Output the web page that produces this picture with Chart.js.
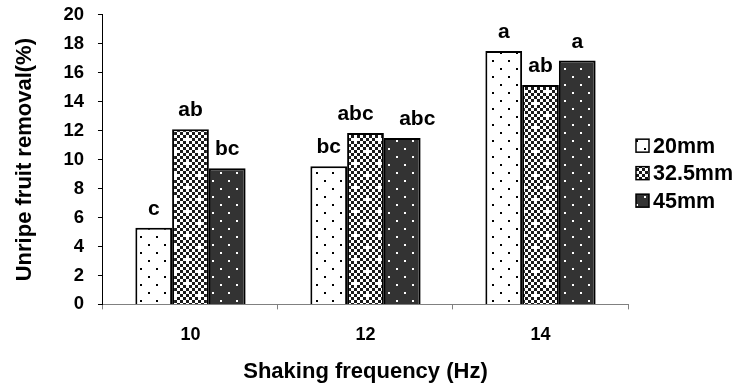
<!DOCTYPE html>
<html>
<head>
<meta charset="utf-8">
<script src="https://cdn.jsdelivr.net/npm/chart.js@4/dist/chart.umd.min.js"></script>
<style>
  html, body { margin: 0; padding: 0; background: #fff; }
</style>
</head>
<body>
<canvas id="chart" width="738" height="388"></canvas>
<script>
// Data
const frequencies = ['10', '12', '14'];
const seriesNames = ['20mm', '32.5mm', '45mm'];
const removal20 = [5.3, 9.55, 17.5];
const removal32 = [12.1, 11.85, 15.15];
const removal45 = [9.4, 11.5, 16.85];
const letters20 = ['c', 'bc', 'a'];
const letters32 = ['ab', 'abc', 'ab'];
const letters45 = ['bc', 'abc', 'a'];
const yTicks = [0, 2, 4, 6, 8, 10, 12, 14, 16, 18, 20];

const FONT = "'Liberation Sans', Arial, sans-serif";

// Fill patterns, like the old spreadsheet hatch fills
function dotPattern(bg, dot) {
    const c = document.createElement('canvas');
    c.width = 16; c.height = 16;
    const g = c.getContext('2d');
    g.fillStyle = bg;
    g.fillRect(0, 0, 16, 16);
    g.fillStyle = dot;
    g.fillRect(4, 4, 2, 2);
    g.fillRect(12, 12, 2, 2);
    return g.createPattern(c, 'repeat');
}

function checkPattern() {
    const cell = 3, n = 8;
    const c = document.createElement('canvas');
    c.width = cell * n; c.height = cell * n;
    const g = c.getContext('2d');
    g.fillStyle = '#fff';
    g.fillRect(0, 0, c.width, c.height);
    g.fillStyle = '#1a1a1a';
    for (let j = 0; j < n; j++) {
        for (let i = 0; i < n; i++) {
            // two dark cells left white make the little white crosses
            const cross = (i === 2 && j === 2) || (i === 6 && j === 6);
            if ((i + j) % 2 === 0 && !cross) g.fillRect(i * cell, j * cell, cell, cell);
        }
    }
    return g.createPattern(c, 'repeat');
}

Chart.defaults.font.family = FONT;
Chart.defaults.font.weight = 'bold';
Chart.defaults.color = '#000';

const lettersByDataset = [letters20, letters32, letters45];
// the two "abc" labels at 12 Hz are pushed apart so they do not touch
const letterNudge = { '1,1': -10, '2,1': 15 };

// Significance letters above each bar
const letterLabels = {
    id: 'letterLabels',
    afterDatasetsDraw(chart) {
        const ctx = chart.ctx;
        ctx.save();
        ctx.font = 'bold 21px ' + FONT;
        ctx.fillStyle = '#000';
        ctx.textAlign = 'center';
        ctx.textBaseline = 'alphabetic';
        chart.data.datasets.forEach((ds, i) => {
            chart.getDatasetMeta(i).data.forEach((bar, j) => {
                const dx = letterNudge[i + ',' + j] || 0;
                ctx.fillText(lettersByDataset[i][j], bar.x + dx, bar.y - 13);
            });
        });
        ctx.restore();
    }
};

// Legend to the right of the plot, small box close to the text
const sideLegend = {
    id: 'sideLegend',
    afterDraw(chart) {
        const ctx = chart.ctx;
        const area = chart.chartArea;
        const box = 13;
        const rowGap = 27.5;
        const x0 = area.right + 8;
        const yMid = (area.top + area.bottom) / 2 + 13.5;
        ctx.save();
        ctx.font = 'bold 21.5px ' + FONT;
        ctx.textBaseline = 'middle';
        ctx.textAlign = 'left';
        chart.data.datasets.forEach((ds, i) => {
            const y = yMid + (i - 1) * rowGap;
            ctx.fillStyle = ds.backgroundColor;
            ctx.fillRect(x0, y - box / 2, box, box);
            ctx.lineWidth = 1.5;
            ctx.strokeStyle = '#000';
            ctx.strokeRect(x0, y - box / 2, box, box);
            ctx.fillStyle = '#000';
            ctx.fillText(ds.label, x0 + box + 4, y + 1);
        });
        ctx.restore();
    }
};

const ctx = document.getElementById('chart').getContext('2d');
const chart = new Chart(ctx, {
    type: 'bar',
    data: {
        labels: frequencies,
        datasets: [
            { label: seriesNames[0], data: removal20, backgroundColor: dotPattern('#fff', '#000') },
            { label: seriesNames[1], data: removal32, backgroundColor: checkPattern() },
            { label: seriesNames[2], data: removal45, backgroundColor: dotPattern('#333', '#fff') }
        ]
    },
    options: {
        responsive: false,
        animation: false,
        layout: { padding: { left: 4, right: 110, top: 0, bottom: 2 } },
        datasets: {
            bar: {
                borderColor: '#000',
                borderWidth: 2,
                barPercentage: 1,
                categoryPercentage: 0.63
            }
        },
        plugins: {
            legend: { display: false },
            tooltip: { enabled: false }
        },
        scales: {
            x: {
                grid: {
                    drawOnChartArea: false,
                    tickLength: 5,
                    color: '#808080'
                },
                border: { color: '#808080', width: 1 },
                ticks: { padding: 15, font: { size: 18, weight: 'bold' } },
                title: {
                    display: true,
                    text: 'Shaking frequency (Hz)',
                    font: { size: 22, weight: 'bold', lineHeight: 1 },
                    padding: { top: 0, bottom: 3 }
                }
            },
            y: {
                min: 0,
                max: 20,
                afterBuildTicks(scale) {
                    scale.ticks = yTicks.map(v => ({ value: v }));
                },
                grid: {
                    drawOnChartArea: false,
                    tickLength: 5,
                    color: '#000'
                },
                border: { color: '#000', width: 1 },
                // tiny line height keeps the plot top close to the canvas edge
                ticks: { padding: 14, font: { size: 18.5, weight: 'bold', lineHeight: 0.1 } },
                title: {
                    display: true,
                    text: 'Unripe fruit removal(%)',
                    font: { size: 22, weight: 'bold' },
                    padding: { top: 8, bottom: 11 }
                }
            }
        }
    },
    plugins: [letterLabels, sideLegend]
});
</script>
</body>
</html>
